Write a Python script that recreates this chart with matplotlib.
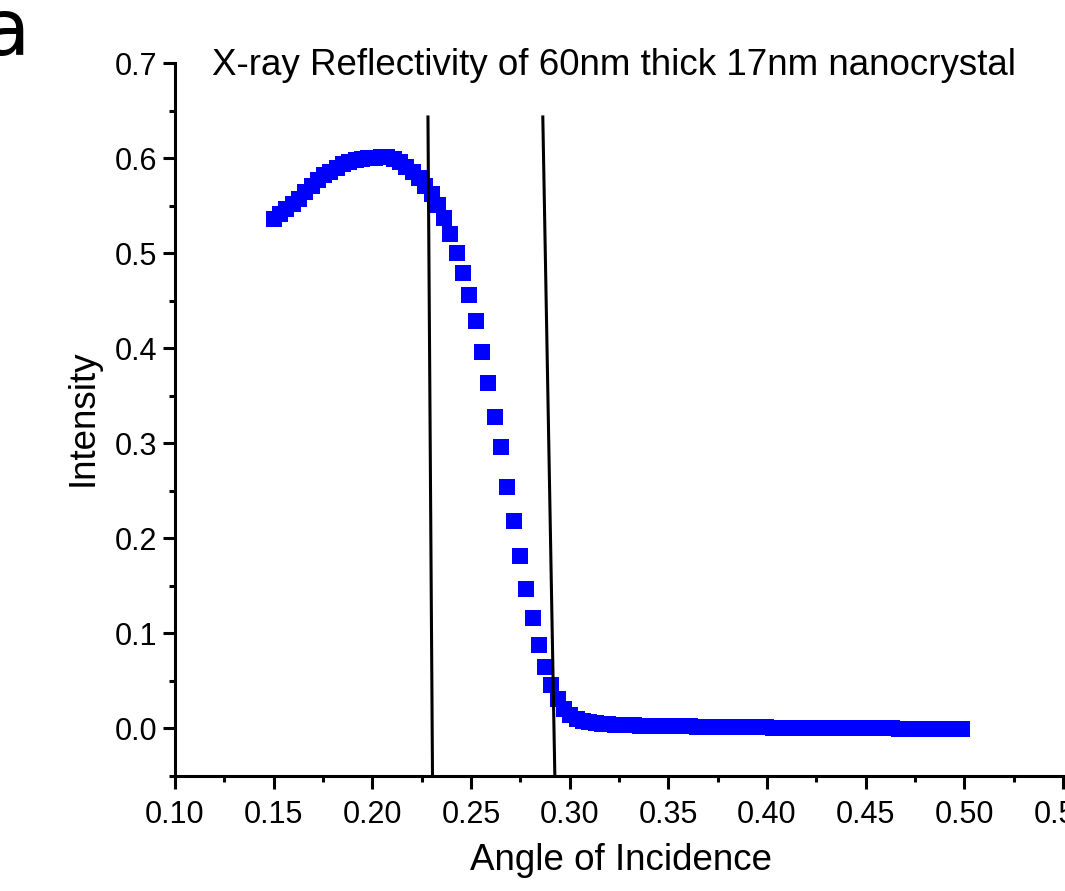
import matplotlib
matplotlib.use("Agg")
import matplotlib.pyplot as plt
from matplotlib.ticker import MultipleLocator, FormatStrFormatter

plt.rcParams['font.family'] = ['Liberation Sans', 'DejaVu Sans']

# angle of incidence
angle = [
    0.1500, 0.1532, 0.1564, 0.1596, 0.1628, 0.1660, 0.1692, 0.1724, 0.1756, 0.1788,
    0.1820, 0.1852, 0.1884, 0.1916, 0.1948, 0.1980, 0.2012, 0.2044, 0.2076, 0.2108,
    0.2140, 0.2172, 0.2204, 0.2236, 0.2268, 0.2300, 0.2332, 0.2364, 0.2396, 0.2428,
    0.2460, 0.2492, 0.2524, 0.2556, 0.2588, 0.2620, 0.2652, 0.2684, 0.2716, 0.2748,
    0.2780, 0.2812, 0.2844, 0.2876, 0.2908, 0.2940, 0.2972, 0.3004, 0.3036, 0.3068,
    0.3100, 0.3132, 0.3164, 0.3196, 0.3228, 0.3260, 0.3292, 0.3324, 0.3356, 0.3388,
    0.3420, 0.3452, 0.3484, 0.3516, 0.3548, 0.3580, 0.3612, 0.3644, 0.3676, 0.3708,
    0.3740, 0.3772, 0.3804, 0.3836, 0.3868, 0.3900, 0.3932, 0.3964, 0.3996, 0.4028,
    0.4060, 0.4092, 0.4124, 0.4156, 0.4188, 0.4220, 0.4252, 0.4284, 0.4316, 0.4348,
    0.4380, 0.4412, 0.4444, 0.4476, 0.4508, 0.4540, 0.4572, 0.4604, 0.4636, 0.4668,
    0.4700, 0.4732, 0.4764, 0.4796, 0.4828, 0.4860, 0.4892, 0.4924, 0.4956, 0.4988,
]

# intensite mesuree
intensity = [
    0.536, 0.541, 0.547, 0.552, 0.557, 0.564, 0.571, 0.577, 0.582, 0.586,
    0.590, 0.594, 0.596, 0.598, 0.599, 0.600, 0.600, 0.601, 0.601, 0.599,
    0.596, 0.591, 0.586, 0.579, 0.571, 0.562, 0.551, 0.537, 0.520, 0.500,
    0.479, 0.456, 0.429, 0.396, 0.364, 0.328, 0.296, 0.254, 0.218, 0.182,
    0.147, 0.116, 0.088, 0.065, 0.046, 0.031, 0.021, 0.014, 0.010, 0.008,
    0.0065, 0.0055, 0.0048, 0.0043, 0.0040, 0.0037, 0.0034, 0.0032, 0.0030, 0.0028,
    0.0027, 0.0026, 0.0025, 0.0024, 0.0023, 0.0022, 0.0021, 0.0020, 0.0019, 0.0018,
    0.0017, 0.0016, 0.0016, 0.0015, 0.0015, 0.0014, 0.0013, 0.0012, 0.0011, 0.0010,
    0.0009, 0.0008, 0.0008, 0.0007, 0.0007, 0.0006, 0.0006, 0.0005, 0.0005, 0.0004,
    0.0004, 0.0003, 0.0003, 0.0002, 0.0002, 0.0001, 0.0001, 0.0000, 0.0000, -0.0001,
    -0.0003, -0.0004, -0.0005, -0.0006, -0.0007, -0.0008, -0.0008, -0.0009, -0.0009, -0.0010,
]

# les deux droites tracees a la main (x haut, x bas)
line1_x = [0.2282, 0.2305]
line2_x = [0.2864, 0.2925]
lines_y = [0.6435, -0.05]

title = "X-ray Reflectivity of 60nm thick 17nm nanocrystal"


def plot_reflectivity():
    fig = plt.figure(figsize=(10.65, 8.91), dpi=100)
    ax = fig.add_axes([0.1643, 0.1291, 0.8338, 0.7999])

    ax.plot(angle, intensity, linestyle='none', marker='s', markersize=11,
            color=(0, 0, 1), markeredgewidth=0)
    ax.plot(line1_x, lines_y, color='black', linewidth=2.2)
    ax.plot(line2_x, lines_y, color='black', linewidth=2.2)

    ax.set_xlim(0.10, 0.55)
    ax.set_ylim(-0.05, 0.70)

    # axes style: only left and bottom
    for side in ['top', 'right']:
        ax.spines[side].set_visible(False)
    for side in ['left', 'bottom']:
        ax.spines[side].set_linewidth(2.2)

    ax.xaxis.set_major_locator(MultipleLocator(0.05))
    ax.xaxis.set_minor_locator(MultipleLocator(0.025))
    ax.yaxis.set_major_locator(MultipleLocator(0.1))
    ax.yaxis.set_minor_locator(MultipleLocator(0.05))
    ax.xaxis.set_major_formatter(FormatStrFormatter('%.2f'))
    ax.yaxis.set_major_formatter(FormatStrFormatter('%.1f'))

    ax.tick_params(which='major', direction='out', length=9, width=2.2, labelsize=22)
    ax.tick_params(which='minor', direction='out', length=4.5, width=2.2)
    ax.tick_params(axis='x', which='major', pad=8)
    ax.tick_params(axis='y', which='major', pad=4)

    # textes
    fig.text(212 / 1065, 1 - 75 / 891, title, fontsize=26.5, ha='left', va='baseline')
    fig.text(621 / 1065, 1 - 870 / 891, "Angle of Incidence", fontsize=26.5,
             ha='center', va='baseline')
    fig.text(93 / 1065, 1 - 418 / 891, "Intensity", fontsize=26.5, rotation=90,
             ha='center', va='baseline', rotation_mode='anchor')
    fig.text(30 / 1065, 1 - 55 / 891, "a", fontsize=57, family='DejaVu Sans',
             ha='right', va='baseline')

    fig.savefig("out.png", dpi=100)


plot_reflectivity()
